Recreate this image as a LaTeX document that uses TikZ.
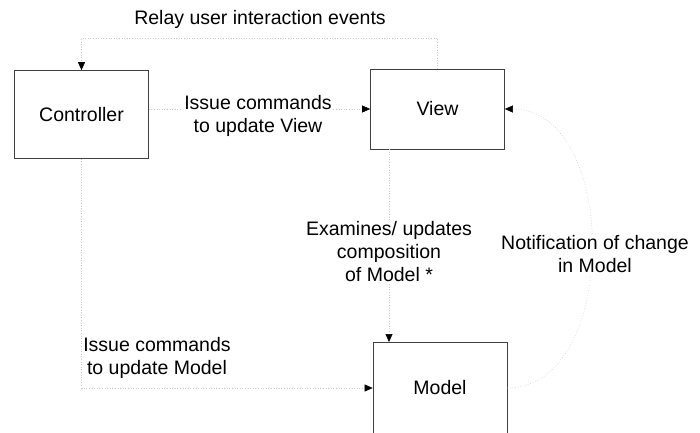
\documentclass[tikz,border=0pt]{standalone}
\usepackage{fontspec}
\setmainfont{Liberation Sans}
\usetikzlibrary{arrows.meta}

\begin{document}
\begin{tikzpicture}[x=1pt, y=-1pt,
    every node/.style={font=\fontsize{19.5}{23}\selectfont},
    box/.style={draw=black!75, line width=0.7pt, minimum width=134pt},
    link/.style={gray!40, dotted, line width=0.6pt,
      -{Triangle[length=8pt, width=7pt, color=black]}},
    lbl/.style={align=center, fill=white, inner sep=1pt}]
    \useasboundingbox (0,0) rectangle (700,432);
    \node[box, minimum height=88pt] (ctrl) at (81.5,114.5) {Controller};
    \node[box, minimum height=80pt] (view) at (437.5,109) {View};
    \node[box, minimum height=92pt] (model) at (440,388) {Model};
    % connectors
    \draw[link] (view.north) |- ([yshift=32pt]ctrl.north) -- (ctrl.north);
    \draw[link] (ctrl.east |- view.west) -- (view.west);
    \draw[link] (389,149) -- (389,342);
    \draw[link] (model.east) .. controls (620,388) and (620,109) .. (view.east);
    \draw[link] (ctrl.south) |- (model.west);
    % labels
    \node[lbl] (relay) at (260,19) {Relay user interaction events};
    \node[lbl] (cmdv) at (258,116) {Issue commands\\to update View};
    \node[lbl] (exm) at (389,252) {Examines/ updates\\composition\\of Model *};
    \node[lbl] (notif) at (595,254) {Notification of change\\in Model};
    \node[lbl] (cmdm) at (157,358) {Issue commands\\to update Model};
\end{tikzpicture}
\end{document}
